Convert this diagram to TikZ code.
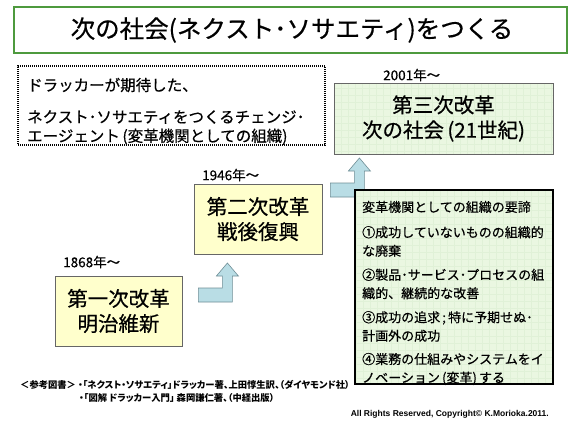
\documentclass[tikz,border=0pt]{standalone}
\usepackage{fontspec}
\setmainfont{Noto Sans CJK JP}[FakeBold=0.5]
\newfontfamily\propfont{Noto Sans CJK JP}[RawFeature=+palt]
\newfontfamily\latinfont{Liberation Sans}
\usetikzlibrary{calc}
\definecolor{kaigreen}{HTML}{4E9A3E}
\definecolor{kaiyellow}{HTML}{FFFFCC}
\definecolor{kaimint}{HTML}{EAF7E1}
\definecolor{kaigrid}{HTML}{E0F1D7}
\definecolor{kaiblue}{HTML}{B9DDE5}
\definecolor{kaiedge}{HTML}{6F8E96}
\newcommand\kaidanpath{(0,0) -- (34,0) -- (34,-26) -- (40,-26) -- (29,-39)
  -- (18,-26) -- (24,-26) -- (24,-14) -- (0,-14) -- cycle}

\begin{document}
\begin{tikzpicture}[x=1pt,y=-1pt,line join=miter,
  box/.style={draw=black!60,line width=.8pt,inner sep=0pt,align=center},
  era/.style={box,fill=kaiyellow,font=\fontsize{20.5}{25}\selectfont},
  mint/.style={fill=kaimint,path picture={
    \draw[kaigrid,line width=.4pt] (path picture bounding box.south west)
      grid[step=7pt] (path picture bounding box.north east);}},
  year/.style={anchor=west,inner sep=0pt,font=\fontsize{13.5}{15}\selectfont},
  item/.style={anchor=west,inner sep=0pt,align=left,font=\fontsize{13}{18.5}\selectfont},
  memo/.style={anchor=west,inner sep=0pt,align=left,font=\fontsize{15.5}{19}\selectfont},
  ref/.style={anchor=west,inner sep=0pt,font=\propfont\fontsize{9.3}{11}\selectfont\bfseries},
  kaidan/.style={fill=kaiblue,draw=kaiedge,line width=.6pt}]
\path[use as bounding box] (0,0) rectangle (580,431);
\fill[white] (0,0) rectangle (580,431);

% タイトル
\node[draw=kaigreen,line width=1.6pt,minimum width=553pt,minimum height=46pt,
  inner sep=0pt] (title) at (290.5,30) {};
\node[font=\fontsize{24.5}{29}\selectfont,inner sep=0pt] (titletext) at (292,30)
  {次の社会(ネクスト･ソサエティ)をつくる};

% ドラッカーの期待
\node[draw,line width=1.1pt,dash pattern=on 1pt off 1pt,minimum width=307pt,
  minimum height=79pt] (drucker) at (171.5,105.5) {};
\node[memo] (memo1) at (27,85) {ドラッカーが期待した、};
\node[memo] (memo2) at (27,127.5)
  {ネクスト･ソサエティをつくるチェンジ･\\エージェント\,(変革機関としての組織)};

% 三つの改革
\node[box,mint,font=\fontsize{20.5}{25}\selectfont,minimum width=219pt,
  minimum height=71pt] (kaikaku3) at (443.5,118.5) {第三次改革\\次の社会\,(21世紀)};
\node[era,minimum width=128pt,minimum height=70pt] (kaikaku2) at (258,219)
  {第二次改革\\戦後復興};
\node[era,minimum width=127pt,minimum height=70pt] (kaikaku1) at (118.5,311)
  {第一次改革\\明治維新};
\node[year] (nen3) at (383,75) {2001年～};
\node[year] (nen2) at (202,175) {1946年～};
\node[year] (nen1) at (63,262) {1868年～};

% 階段の矢印
\draw[kaidan,shift={($(kaikaku1.east)+(16,-9)$)}] \kaidanpath;
\draw[kaidan,shift={($(kaikaku2.east)+(8,-22)$)}] \kaidanpath;

% 変革機関としての組織の要諦
\node[mint,draw=black,line width=1.8pt,minimum width=198pt,minimum height=194pt]
  (yotei) at (454,287) {};
\node[item] (yo0) at (362,207) {変革機関としての組織の要諦};
\node[item] (yo1) at (362,241.5) {①成功していないものの組織的\\な廃棄};
\node[item] (yo2) at (362,284) {②製品･サービス･プロセスの組\\織的、継続的な改善};
\node[item] (yo3) at (362,326.5) {③成功の追求\,;\,特に予期せぬ･\\計画外の成功};
\node[item] (yo4) at (362,369) {④業務の仕組みやシステムをイ\\ノベーション\,(変革)\,する};

% 参考図書
\node[ref] (sanko) at (20,385) {＜参考図書＞};
\node[ref] (book1) at (78,385)
  {・「ネクスト・ソサエティ」ドラッカー著、上田惇生訳、（ダイヤモンド社）};
\node[ref] (book2) at (79,398) {・「図解 ドラッカー入門」 森岡謙仁著、（中経出版）};
\node[anchor=east,inner sep=0pt,font=\latinfont\fontsize{8.5}{10}\selectfont\bfseries]
  (copy) at (549,414) {All Rights Reserved, Copyright© K.Morioka.2011.};
\end{tikzpicture}
\end{document}
